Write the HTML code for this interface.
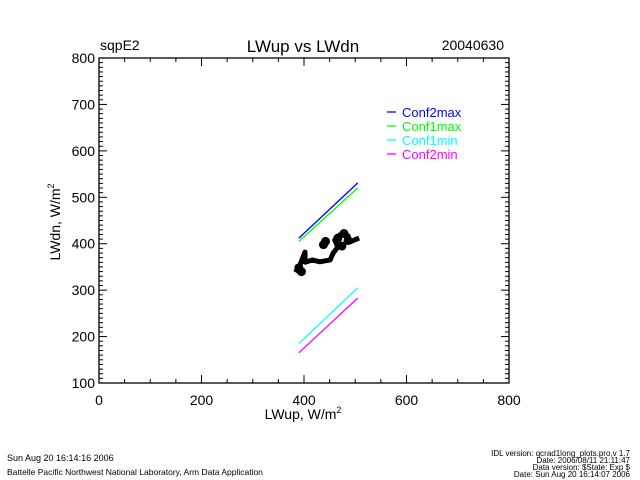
<!DOCTYPE html>
<html><head><meta charset="utf-8"><style>
html,body{margin:0;padding:0;background:#fff;}
svg{display:block;font-family:"Liberation Sans",sans-serif;}
</style></head><body>
<svg id="chart" width="640" height="480" viewBox="0 0 640 480">
<rect width="640" height="480" fill="#fff"/>
<g id="axes"></g>
<g id="series"></g>
<text x="100" y="50" font-size="14">sqpE2</text>
<text x="303" y="52" font-size="17" text-anchor="middle">LWup vs LWdn</text>
<text x="504" y="50" font-size="14" text-anchor="end">20040630</text>
<text x="303" y="419" font-size="14" text-anchor="middle">LWup, W/m<tspan font-size="9" dy="-6">2</tspan></text>
<text transform="translate(60,222) rotate(-90)" font-size="14" text-anchor="middle">LWdn, W/m<tspan font-size="9" dy="-6">2</tspan></text>
<text x="7" y="461" font-size="9">Sun Aug 20 16:14:16 2006</text>
<text x="7" y="475" font-size="8.5">Battelle Pacific Northwest National Laboratory, Arm Data Application</text>
<g font-size="8" text-anchor="end">
<text x="630" y="456">IDL version: qcrad1long_plots.pro,v 1.7</text>
<text x="630" y="463">Date: 2006/08/11 21:11:47</text>
<text x="630" y="470">Data version: $State: Exp $</text>
<text x="630" y="477">Date: Sun Aug 20 16:14:07 2006</text>
</g>
</svg>
<script>
const xTicks = [0, 200, 400, 600, 800];
const yTicks = [100, 200, 300, 400, 500, 600, 700, 800];
const lineX = [390, 505];
const conf2max = [412, 531];
const conf1max = [405, 520];
const conf1min = [185, 305];
const conf2min = [165, 283];
const obsUp = [386, 392, 402, 402, 416, 431, 451, 457, 466, 460, 470, 486, 490, 503];
const obsDn = [343, 354, 382, 360, 365, 361, 365, 380, 393, 408, 419, 417, 404, 410];
const clusterUp = [466, 478, 486, 474, 442, 438, 390, 395];
const clusterDn = [412, 422, 407, 395, 405, 398, 348, 340];
const legendNames = ["Conf2max", "Conf1max", "Conf1min", "Conf2min"];
const colors = ["#0000ff", "#00ff00", "#00ffff", "#ff00ff"];

const L = 99, R = 509, T = 58, B = 383;
const X = v => L + (v - 0) / 800 * (R - L);
const Y = v => B - (v - 100) / 700 * (B - T);
const NS = "http://www.w3.org/2000/svg";
function mk(tag, attrs, parent) {
  const e = document.createElementNS(NS, tag);
  for (const k in attrs) e.setAttribute(k, attrs[k]);
  parent.appendChild(e);
  return e;
}
const axes = document.getElementById('axes');
const series = document.getElementById('series');
const frame = mk('rect', {x: L, y: T, width: R - L, height: B - T, fill: 'none', stroke: '#000', 'stroke-width': 1.3}, axes);


for (let v = 0; v <= 800; v += 50) {
  const major = v % 200 === 0, len = major ? 8 : 4;
  const t1 = mk('line', {x1: X(v), x2: X(v), y1: B, y2: B - len, stroke: '#000'}, axes);
  
  
  const t2 = mk('line', {x1: X(v), x2: X(v), y1: T, y2: T + len, stroke: '#000'}, axes);
  
  
}
for (let v = 100; v <= 800; v += 10) {
  const major = v % 100 === 0, len = major ? 8 : 4;
  const t1 = mk('line', {x1: L, x2: L + len, y1: Y(v), y2: Y(v), stroke: '#000'}, axes);
  
  
  const t2 = mk('line', {x1: R, x2: R - len, y1: Y(v), y2: Y(v), stroke: '#000'}, axes);
  
  
}
xTicks.forEach(v => {
  const t = mk('text', {x: X(v), y: B + 22, 'font-size': 14, 'text-anchor': 'middle'}, axes);
  t.textContent = v;
  
  
});
yTicks.forEach(v => {
  const t = mk('text', {x: L - 4, y: Y(v) + 5, 'font-size': 14, 'text-anchor': 'end'}, axes);
  t.textContent = v;
  
  
});
const pts = obsUp.map((u, i) => X(u) + ',' + Y(obsDn[i])).join(' ');
const blob = mk('polyline', {points: pts, fill: 'none', stroke: '#000', 'stroke-width': 5, 'stroke-linejoin': 'round', 'stroke-linecap': 'square'}, series);


clusterUp.forEach((u, i) => {
  const c = mk('circle', {cx: X(u), cy: Y(clusterDn[i]), r: 4.5, fill: '#000'}, series);
  
  
});
[conf2max, conf1max, conf1min, conf2min].forEach((arr, i) => {
  const ln = mk('line', {x1: X(lineX[0]), y1: Y(arr[0]), x2: X(lineX[1]), y2: Y(arr[1]), stroke: colors[i], 'stroke-width': 1.3}, series);
  
  
  const ly = 112 + i * 14;
  const sw = mk('line', {x1: 387, x2: 396, y1: ly, y2: ly, stroke: colors[i], 'stroke-width': 1.3}, series);
  
  
  const lt = mk('text', {x: 402, y: ly + 5, 'font-size': 13, fill: colors[i]}, series);
  lt.textContent = legendNames[i];
  
  
});
</script>
</body></html>
